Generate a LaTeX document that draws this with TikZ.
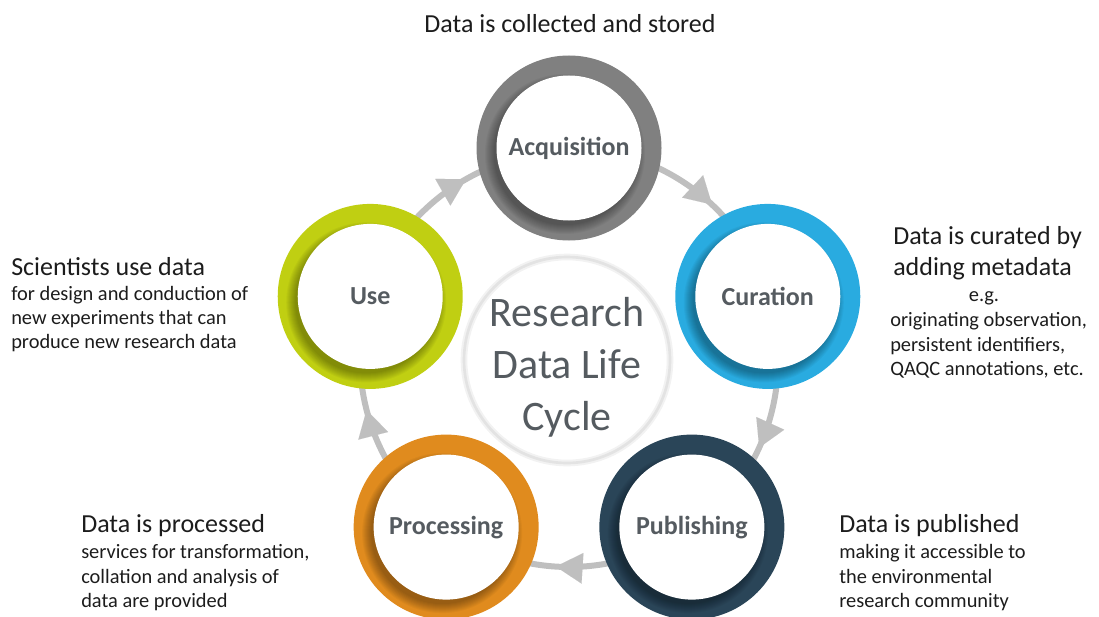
\documentclass[tikz,border=0pt]{standalone}
\usepackage{fontspec}
\setmainfont{Carlito}
\usetikzlibrary{arrows.meta,decorations.markings,backgrounds}

\definecolor{ringgray}{RGB}{128,128,128}
\definecolor{ringblue}{RGB}{41,171,224}
\definecolor{ringnavy}{RGB}{42,69,88}
\definecolor{ringorange}{RGB}{224,139,30}
\definecolor{ringlime}{RGB}{192,207,18}
\definecolor{labelgray}{RGB}{85,91,96}
\definecolor{flowgray}{RGB}{191,191,191}
\definecolor{notetext}{RGB}{28,28,28}

\tikzset{
  stage/.style={circle, fill=white, minimum size=108.75pt, inner sep=0pt,
    text=labelgray, font=\fontsize{19.5}{23}\selectfont\bfseries},
  hubring/.style={circle, minimum size=154.5pt, inner sep=-8pt, align=center,
    draw=black!11, line width=2pt, preaction={draw=black!5, line width=5pt},
    text=labelgray, font=\fontsize{31.5}{39}\selectfont},
  flow/.style={draw=flowgray, line width=4.5pt, postaction={decorate},
    decoration={markings, mark=at position #1 with
      {\arrow{Triangle[length=20pt,width=23pt,line width=0.01pt]}}}},
  heading/.style={anchor=base west, inner sep=0pt, text=notetext,
    font=\fontsize{19.5}{23.25}\selectfont},
  detail/.style={anchor=north west, inner sep=0pt, align=left, text=notetext,
    font=\fontsize{15.3}{18.3}\selectfont},
}

\begin{document}
\begin{tikzpicture}[x=0.75pt,y=0.75pt,yscale=-1,xscale=1]
    \useasboundingbox (0,0) rectangle (1099,617);
    \coordinate (cycle) at (569,357);

    % coloured rings with inner shadow, white stage disc on top
    \foreach \nm/\ang/\dy/\col/\txt in {acq/-90/0/ringgray/Acquisition, cur/-18/4/ringblue/Curation, pub/54/1/ringnavy/Publishing, proc/126/1/ringorange/Processing, use/198/4/ringlime/Use}{
      \coordinate (spot) at ([shift={(\ang:209)}]cycle);
      \fill[\col] ([yshift=\dy*0.75pt]spot) circle[radius=92.5];
      \begin{scope}
        \clip ([yshift=\dy*0.75pt]spot) circle[radius=92.5];
        \foreach \k in {1,...,10}
          \fill[black, opacity=0.037] ([yshift=\dy*0.75pt]spot) ++(-4,6) circle[radius=70+\k];
      \end{scope}
      \node[stage] (\nm) at ([yshift=\dy*0.75pt]spot) {\txt};
    }

    % centre circle
    \node[hubring] (hub) at (567,360) {\rule{0pt}{32.5pt}Research\\Data Life\\Cycle};

    % cycle arrows
    \begin{scope}[on background layer]
      \draw[flow=0.6] (acq.center) arc[start angle=-90, end angle=-18, radius=209];
      \draw[flow=0.59] (cur.center) arc[start angle=-18, end angle=54, radius=209];
      \draw[flow=0.55] (pub.center) arc[start angle=54, end angle=126, radius=209];
      \draw[flow=0.55] (proc.center) arc[start angle=126, end angle=198, radius=209];
      \draw[flow=0.59] (use.center) arc[start angle=198, end angle=270, radius=209];
    \end{scope}

    % Text Nodes
    \node[heading, anchor=base] (acqnote) at (570,33) {Data is collected and stored};

    \node[heading] (usehead) at (11,275) {Scientists use data};
    \node[detail] (usetext) at (11,282.8) {\strut for design and conduction of\\new experiments that can\\produce new research data};

    \node[detail, font=\fontsize{19.5}{23.25}\selectfont] (curhead) at (893,222.8) {\strut Data is curated by\\adding metadata};
    \node[detail, anchor=base] (cureg) at (984,301) {e.g.};
    \node[detail] (curtext) at (890,309.3) {\strut originating observation,\\persistent identifiers,\\QAQC annotations, etc.};

    \node[heading] (prochead) at (81,532.5) {Data is processed};
    \node[detail] (proctext) at (81,541.3) {\strut services for transformation,\\collation and analysis of\\data are provided};

    \node[heading] (pubhead) at (839,532.5) {Data is published};
    \node[detail] (pubtext) at (839,541.3) {\strut making it accessible to\\the environmental\\research community};

\end{tikzpicture}
\end{document}
